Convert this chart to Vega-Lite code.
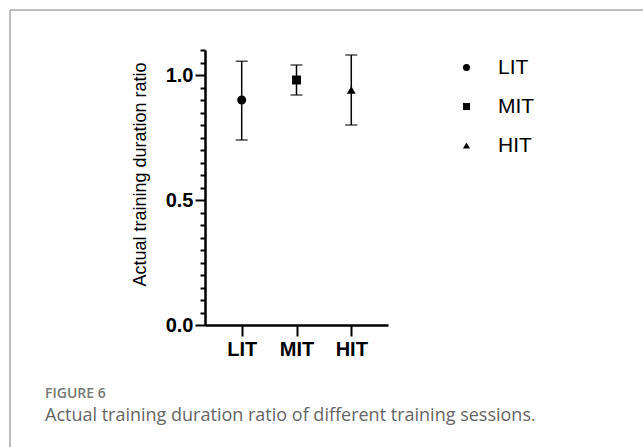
{
  "$schema": "https://vega.github.io/schema/vega-lite/v6.json",
  "width": 633,
  "height": 437,
  "autosize": {"type": "none"},
  "padding": {"left": 10, "top": 10, "right": 0, "bottom": 0},
  "background": "white",
  "title": {
    "text": "FIGURE 6",
    "subtitle": "Actual training duration ratio of different training sessions.",
    "orient": "top",
    "anchor": "start",
    "frame": "group",
    "dx": 35,
    "dy": 419,
    "font": "Open Sans",
    "fontSize": 14,
    "fontWeight": 600,
    "color": "#777777",
    "subtitleFont": "Open Sans",
    "subtitleFontSize": 18,
    "subtitleColor": "#666666",
    "subtitlePadding": 6
  },
  "config": {
    "view": {"stroke": "#a8a8a8", "strokeWidth": 1.5, "strokeDash": [633, 1070, 437, 0]},
    "font": "Liberation Sans",
    "axis": {
      "grid": false,
      "domainColor": "black",
      "domainWidth": 2.5,
      "tickColor": "black",
      "tickWidth": 2,
      "labelColor": "black",
      "labelFont": "Liberation Sans",
      "labelFontWeight": "bold",
      "labelFontSize": 20,
      "titleFont": "Liberation Sans",
      "titleFontWeight": "normal",
      "titleFontSize": 18,
      "titleColor": "black"
    },
    "axisX": {"offset": -122, "tickSize": 11, "labelPadding": 3, "labelAngle": 0}
  },
  "data": {
    "values": [
      {"group": "LIT", "mean": 0.90, "lo": 0.74, "hi": 1.055},
      {"group": "MIT", "mean": 0.98, "lo": 0.92, "hi": 1.04},
      {"group": "HIT", "mean": 0.94, "lo": 0.80, "hi": 1.08}
    ]
  },
  "resolve": {"axis": {"y": "independent"}},
  "layer": [
    {
      "mark": {"type": "rule", "color": "black", "strokeWidth": 1.5},
      "encoding": {
        "x": {
          "field": "group",
          "type": "nominal",
          "sort": ["LIT", "MIT", "HIT"],
          "scale": {"type": "point", "domain": ["LIT", "MIT", "HIT"], "range": [195, 378], "padding": 0.67},
          "axis": {"title": null}
        },
        "y": {
          "field": "lo",
          "type": "quantitative",
          "scale": {"domain": [0, 1.1], "range": [315, 40], "nice": false, "zero": true},
          "axis": {
            "orient": "left",
            "values": [0, 0.5, 1.0],
            "format": ".1f",
            "offset": -195,
            "tickSize": 10,
            "labelPadding": 2,
            "title": "Actual training duration ratio",
            "titlePadding": 16,
            "titleY": 164
          }
        },
        "y2": {"field": "hi"}
      }
    },
    {
      "mark": {"type": "tick", "color": "black", "size": 12, "thickness": 1.5},
      "encoding": {
        "x": {"field": "group", "type": "nominal", "sort": ["LIT", "MIT", "HIT"]},
        "y": {"field": "hi", "type": "quantitative", "axis": null}
      }
    },
    {
      "mark": {"type": "tick", "color": "black", "size": 12, "thickness": 1.5},
      "encoding": {
        "x": {"field": "group", "type": "nominal", "sort": ["LIT", "MIT", "HIT"]},
        "y": {
          "field": "lo",
          "type": "quantitative",
          "axis": {
            "orient": "left",
            "values": [0.05, 0.1, 0.15, 0.2, 0.25, 0.3, 0.35, 0.4, 0.45, 0.55, 0.6, 0.65, 0.7, 0.75, 0.8, 0.85, 0.9, 0.95, 1.05, 1.1],
            "labels": false,
            "domain": false,
            "tickSize": 5,
            "offset": -195,
            "title": null
          }
        }
      }
    },
    {
      "mark": {"type": "point", "filled": true, "color": "black", "opacity": 1, "size": 80},
      "encoding": {
        "x": {"field": "group", "type": "nominal", "sort": ["LIT", "MIT", "HIT"]},
        "y": {"field": "mean", "type": "quantitative", "axis": null},
        "shape": {
          "field": "group",
          "type": "nominal",
          "scale": {"domain": ["LIT", "MIT", "HIT"], "range": ["circle", "square", "triangle-up"]},
          "legend": {
            "orient": "none",
            "legendX": 446,
            "legendY": 47,
            "title": null,
            "labelFont": "Liberation Sans",
            "labelFontSize": 21,
            "labelColor": "black",
            "symbolSize": 50,
            "symbolFillColor": "black",
            "symbolStrokeColor": "black",
            "symbolStrokeWidth": 0,
            "rowPadding": 17,
            "labelOffset": 21
          }
        }
      }
    }
  ]
}
